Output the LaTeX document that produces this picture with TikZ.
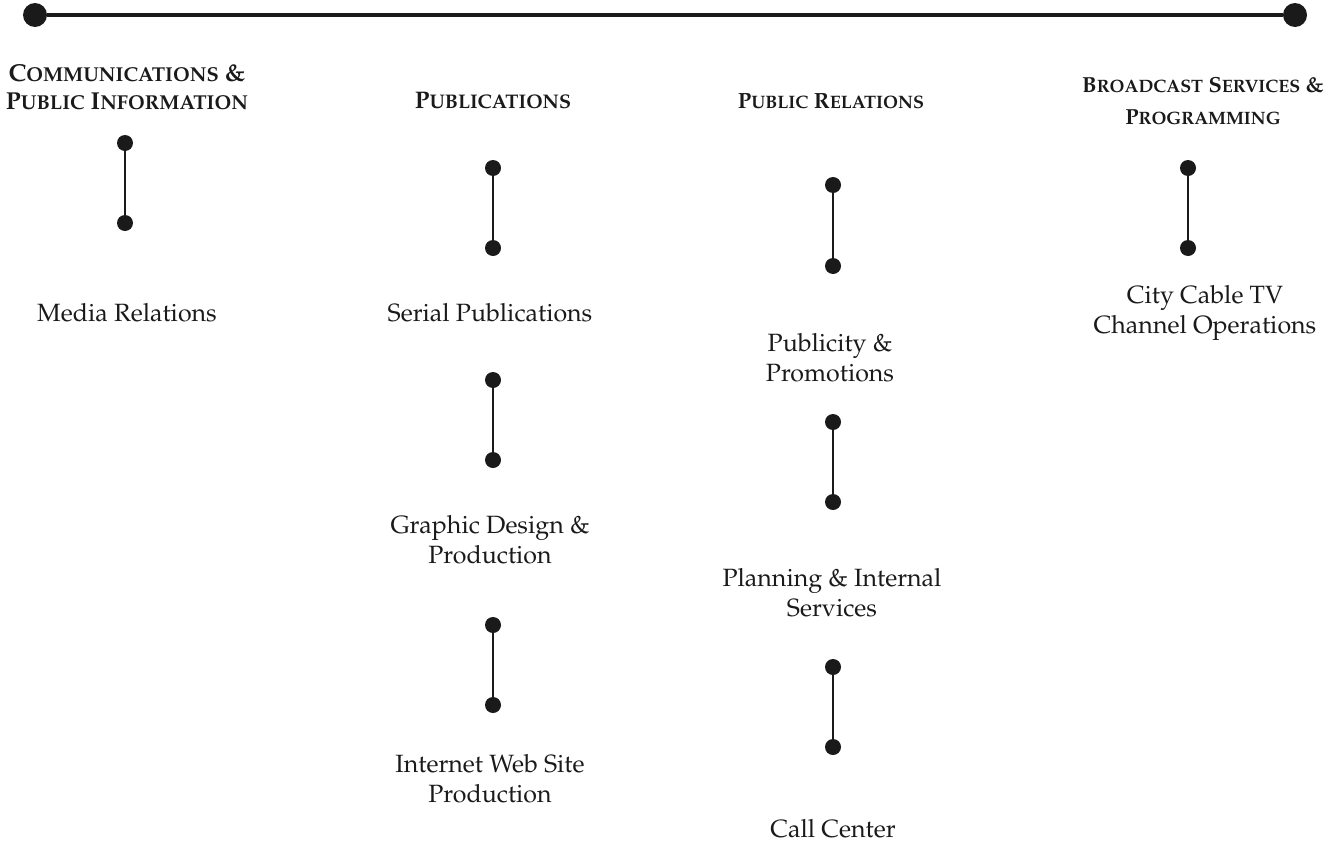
\documentclass[tikz,border=0pt]{standalone}
\usepackage[T1]{fontenc}
\usepackage{mathpazo}
\definecolor{ink}{HTML}{1A1A1A}
\def\scsize{20}
\newcommand\smc[1]{{\fontsize{\scsize}{22}\selectfont #1}}
\newcommand\hfont[3]{\bfseries\fontsize{#1}{#2}\selectfont\def\scsize{#3}}
\begin{document}
\begin{tikzpicture}[x=1pt,y=-1pt,
  bigdot/.style={circle,fill=ink,inner sep=0pt,minimum size=24pt},
  dot/.style={circle,fill=ink,inner sep=0pt,minimum size=16pt},
  topline/.style={draw=ink,line width=3.5pt},
  link/.style={draw=ink,line width=2pt},
  head/.style={text=ink,align=center,inner sep=0pt},
  lab/.style={text=ink,align=center,font=\fontsize{25}{30}\selectfont,inner sep=0pt}]
\useasboundingbox (0,0) rectangle (1331,846);
% top bar
\node[bigdot] (L) at (35,15) {};
\node[bigdot] (R) at (1295,15) {};
\draw[topline] (L) -- (R);
% column 1
\node[head,font=\hfont{24.5}{28}{20.1}] (h1) at (127,87) {C\smc{OMMUNICATIONS} \&\\P\smc{UBLIC} I\smc{NFORMATION}};
\node[dot] (c1a) at (125,143) {};
\node[dot] (c1b) at (125,223) {};
\draw[link] (c1a) -- (c1b);
\node[lab] (m1) at (127,313) {Media Relations};
% column 2
\node[head,font=\hfont{24}{28}{19.7}] (h2) at (493,101) {P\smc{UBLICATIONS}};
\node[dot] (c2a) at (493,168) {};
\node[dot] (c2b) at (493,248) {};
\draw[link] (c2a) -- (c2b);
\node[lab] (s2) at (490,313) {Serial Publications};
\node[dot] (c2c) at (493,380) {};
\node[dot] (c2d) at (493,460) {};
\draw[link] (c2c) -- (c2d);
\node[lab] (g2) at (490,540) {Graphic Design \&\\Production};
\node[dot] (c2e) at (493,625) {};
\node[dot] (c2f) at (493,705) {};
\draw[link] (c2e) -- (c2f);
\node[lab] (i2) at (490,779) {Internet Web Site\\Production};
% column 3
\node[head,font=\hfont{22}{28}{18}] (h3) at (831,101) {P\smc{UBLIC} R\smc{ELATIONS}};
\node[dot] (c3a) at (833,185) {};
\node[dot] (c3b) at (833,266) {};
\draw[link] (c3a) -- (c3b);
\node[lab] (p3) at (830,358) {Publicity \&\\Promotions};
\node[dot] (c3c) at (833,422) {};
\node[dot] (c3d) at (833,502) {};
\draw[link] (c3c) -- (c3d);
\node[lab] (q3) at (832,593) {Planning \& Internal\\Services};
\node[dot] (c3e) at (833,667) {};
\node[dot] (c3f) at (833,747) {};
\draw[link] (c3e) -- (c3f);
\node[lab] (k3) at (833,829) {Call Center};
% column 4
\node[head,font=\hfont{21.8}{32}{17.9}] (h4) at (1203,101) {B\smc{ROADCAST} S\smc{ERVICES} \&\\P\smc{ROGRAMMING}};
\node[dot] (c4a) at (1188,168) {};
\node[dot] (c4b) at (1188,248) {};
\draw[link] (c4a) -- (c4b);
\node[lab] (t4) at (1205,313) {City Cable TV\\Channel Operations};
\end{tikzpicture}
\end{document}
